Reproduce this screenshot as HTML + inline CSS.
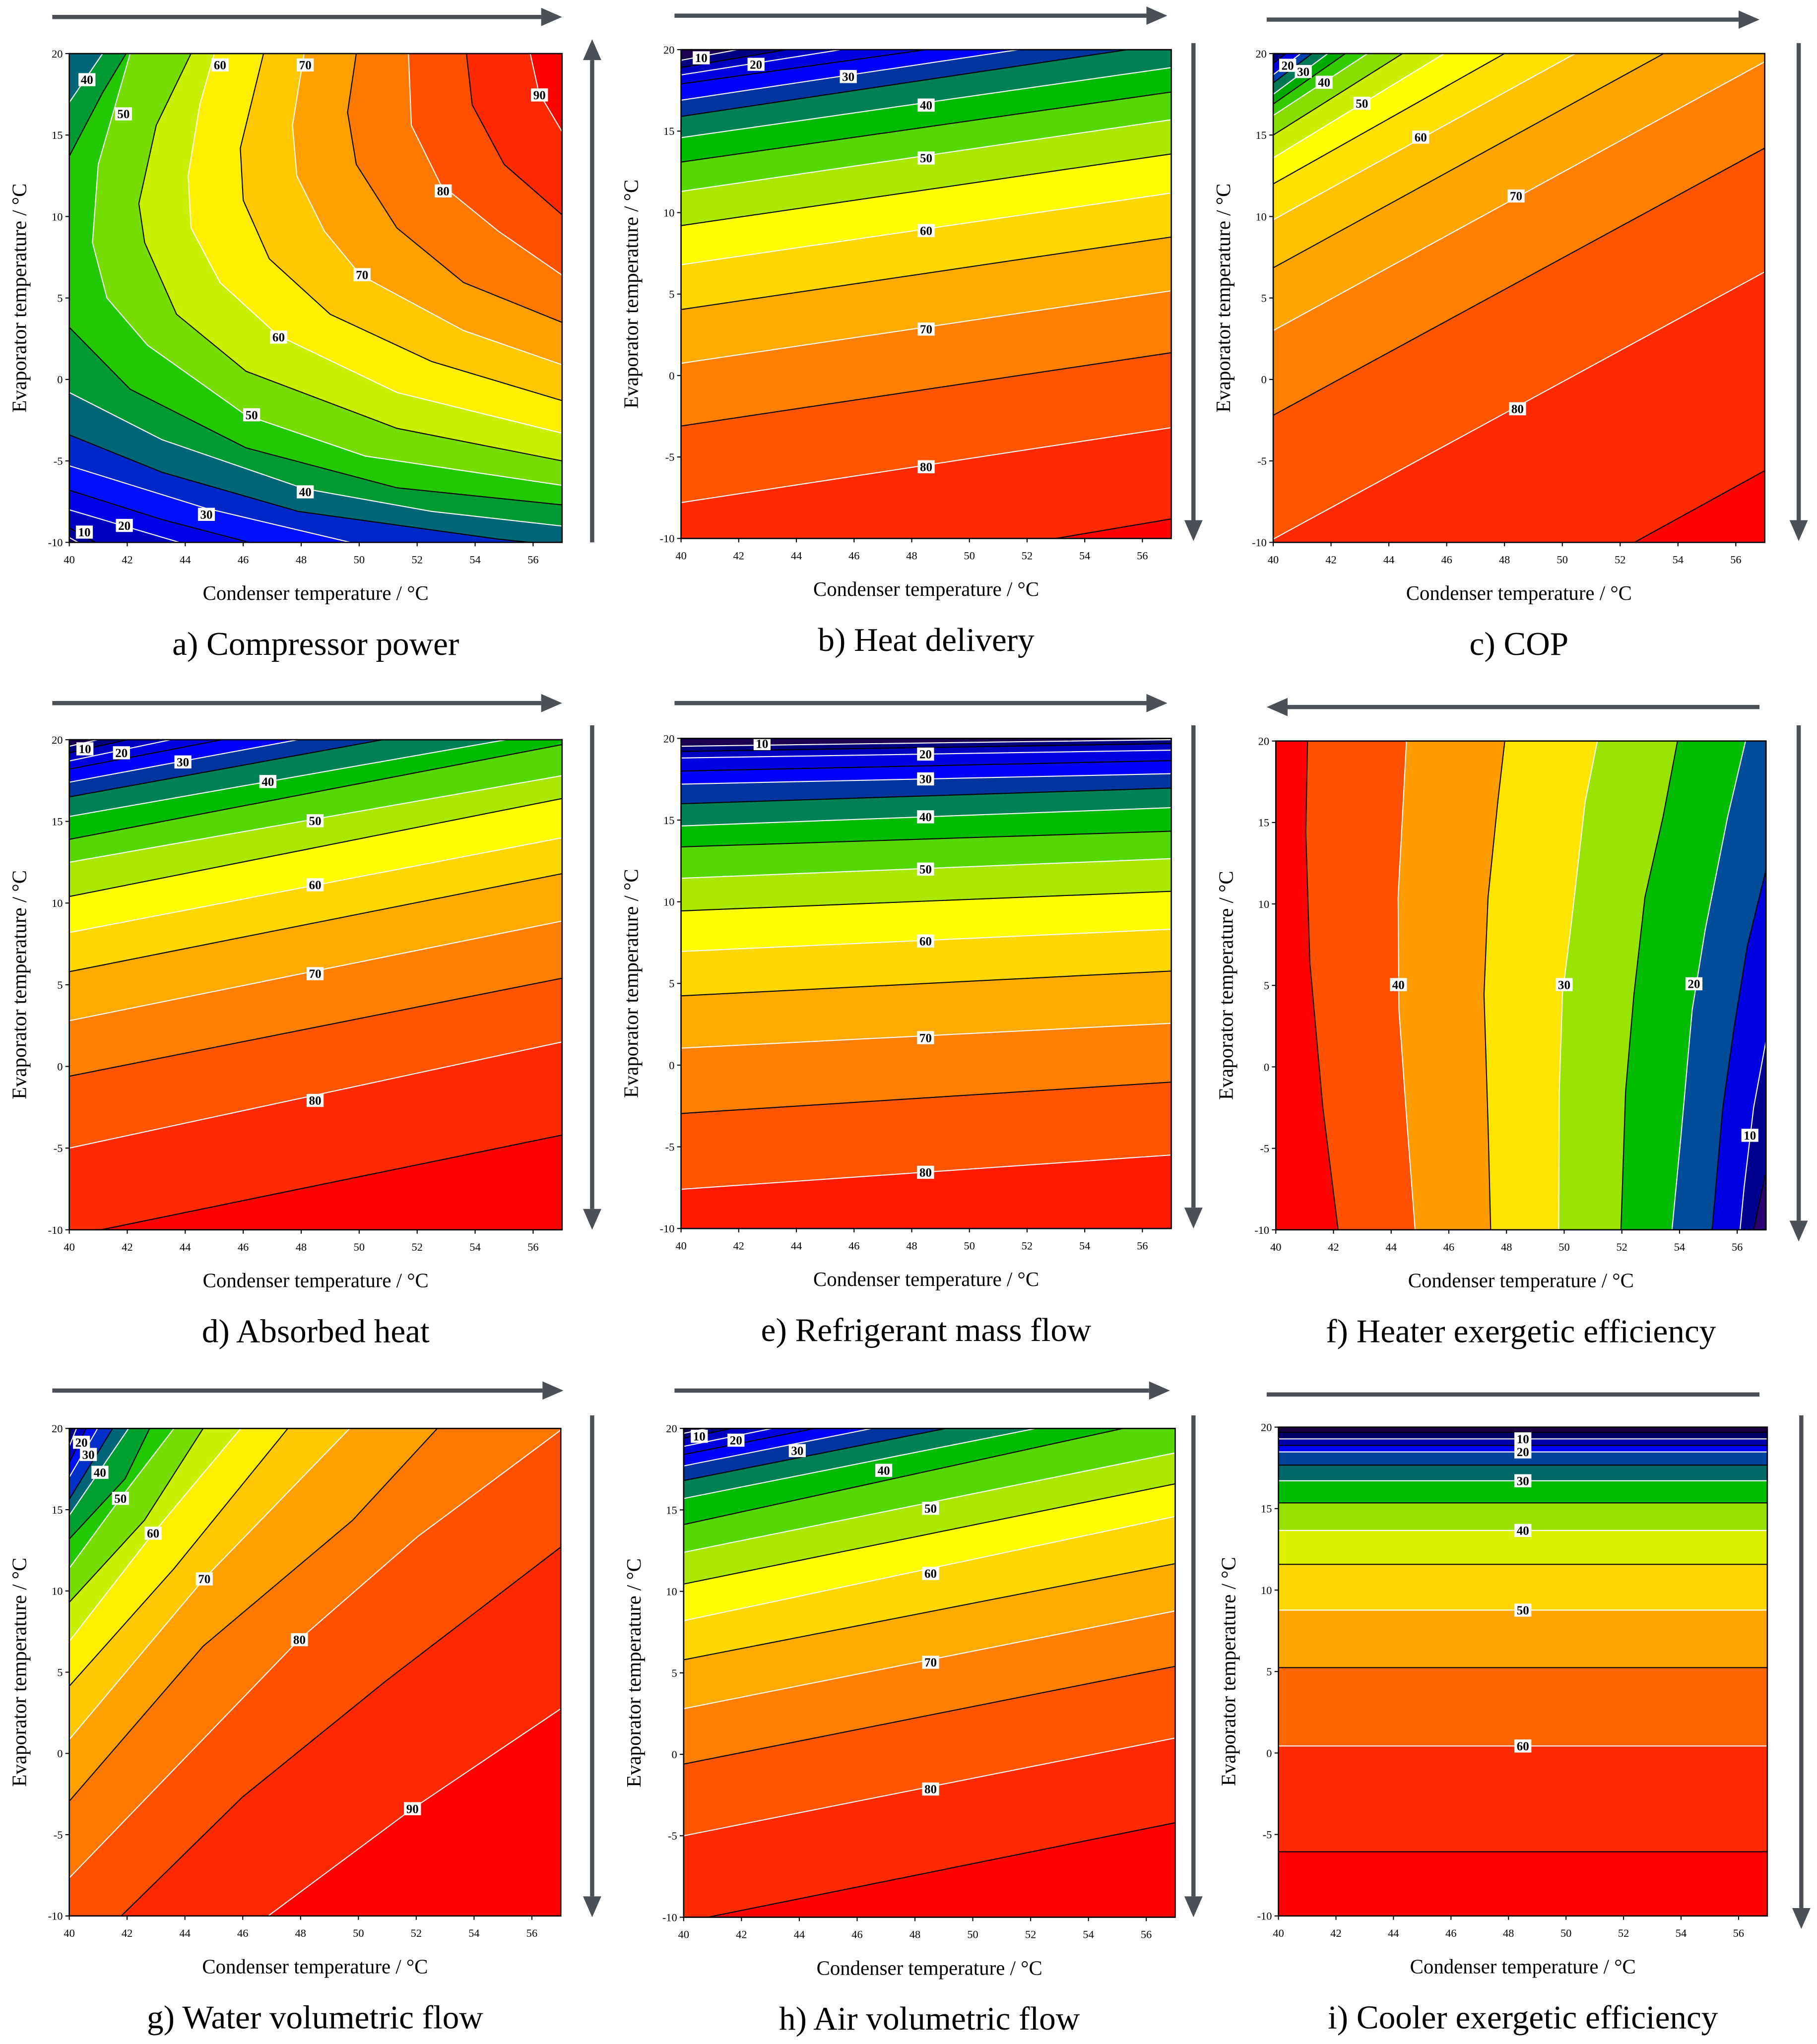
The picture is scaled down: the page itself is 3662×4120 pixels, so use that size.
<!DOCTYPE html>
<html><head><meta charset="utf-8"><style>
html,body{margin:0;padding:0;background:#fff;}
svg{display:block;}
svg text{font-family:"Liberation Serif","DejaVu Serif",serif;}
</style></head><body>
<svg id="fig" width="3662" height="4120" viewBox="0 0 1390 1564" preserveAspectRatio="none" xmlns="http://www.w3.org/2000/svg"></svg>
<script>
// ===== Panel a: Compressor power =====
const aLevels=[10,15,20,25,30,35,40,45,50,55,60,65,70,75,80,85,90];
const aColors=['#22007a','#000099','#0000c0','#0000e6','#0010ff','#0028c8','#006677','#009a35','#22c800','#77dd00','#c8f000','#fff000','#ffc800','#ffa000','#ff7800','#ff5000','#ff2800','#ff0000'];
const aLines=[
[[40,-9.7],[40.3,-10]],
[[40,-9.1],[40.9,-10]],
[[40,-8.0],[41.9,-9.0],[43.8,-10]],
[[40,-6.8],[43.2,-8.6],[46.2,-10]],
[[40,-5.3],[44.7,-7.9],[49.7,-10]],
[[40,-3.4],[43.2,-5.7],[47.9,-8.1],[54.8,-9.8],[57,-10.2]],
[[40,-0.8],[43.2,-3.7],[48.1,-6.7],[52.5,-8.1],[57,-9.0]],
[[40,3.2],[42.1,-0.6],[46.1,-4.2],[51.3,-6.65],[57,-7.7]],
[[42.1,20],[41.0,13.2],[40.8,8.4],[41.3,5.0],[42.7,2.1],[46.1,-2.2],[50.2,-4.7],[57,-6.5]],
[[44.2,20],[43.0,15.6],[42.4,10.8],[42.6,8.4],[43.7,4.0],[46.1,0.5],[51.3,-3.0],[57,-5.0]],
[[45.0,20],[44.5,16.85],[44.1,12.5],[44.2,9.3],[45.2,5.95],[47.2,2.7],[51.3,-0.8],[57,-3.3]],
[[46.7,20],[45.9,14.2],[46.0,11.0],[46.9,7.4],[49.0,4.0],[52.5,1.1],[57,-1.3]],
[[48.1,20],[47.7,15.6],[47.85,12.5],[48.8,9.1],[50.05,6.4],[53.6,3.0],[57,0.9]],
[[49.9,20],[49.6,16.4],[49.9,13.2],[51.3,9.3],[53.6,5.95],[57,3.5]],
[[51.7,20],[51.8,15.6],[52.8,12.0],[54.8,9.1],[57,6.4]],
[[53.7,20],[53.9,16.85],[55.0,13.2],[57,10.1]],
[[55.9,20],[56.2,17.6],[57,15.2]]
];
const aCornerLevels=[45,40];
const aCornerColors=['#009a35','#006677'];
const aCornerLines=[[[41.96,20],[41.15,17.6],[40,13.7]],[[41.15,20],[40,17]]];
const aLabels=[[10,40.52,-9.37],[20,41.9,-8.96],[30,44.73,-8.28],[40,48.14,-6.9],[50,46.29,-2.17],[60,47.22,2.6],[70,50.1,6.43],[80,52.9,11.57],[90,56.22,17.46],[40,40.61,18.4],[50,41.87,16.3],[60,45.2,19.3],[70,48.14,19.3]];

// ===== Panel b: Heat delivery =====
const bLevels=[10,15,20,25,30,35,40,45,50,55,60,65,70,75,80,85];
const bColors=['#1a0050','#000080','#0000c0','#0000e0','#0000ff','#0035a0','#008055','#00bb00','#55d800','#aae800','#ffff00','#ffd700','#ffaa00','#ff8000','#ff5500','#ff2a00','#ff0000'];
const bLines=[[[40,19.35],[57,25]],[[40,18.9],[57,24]],[[40,18.45],[57,23.2]],[[40,17.9],[57,22.1]],[[40,16.9],[57,21.4]],[[40,15.9],[57,20.4]],[[40,14.6],[57,18.9]],[[40,13.1],[57,17.4]],[[40,11.3],[57,15.7]],[[40,9.2],[57,13.6]],[[40,6.8],[57,11.2]],[[40,4.05],[57,8.5]],[[40,0.75],[57,5.2]],[[40,-3.1],[57,1.4]],[[40,-7.8],[57,-3.2]],[[53,-10],[57,-8.8]]];
const bLabels=[[10,40.7,19.5],[20,42.6,19.1],[30,45.8,18.35],[40,48.5,16.6],[50,48.5,13.35],[60,48.5,8.9],[70,48.5,2.85],[80,48.5,-5.6]];

// ===== Panel c: COP =====
const cLevels=[15,20,25,30,35,40,45,50,55,60,65,70,75,80,85];
const cColors=['#000080','#0000e0','#0040b0','#007755','#00aa00','#33cc00','#88dd00','#ccee00','#ffff00','#ffe000','#ffc000','#ffa500','#ff8000','#ff5500','#ff2a00','#ff0000'];
const cLines=[[[40,19.4],[57,43]],[[40,18.7],[57,42]],[[40,18.2],[57,41]],[[40,17.5],[57,40]],[[40,16.9],[57,38]],[[40,16.2],[57,36]],[[40,15.0],[57,34]],[[40,13.6],[57,32]],[[40,12.0],[57,29]],[[40,9.8],[57,26.4]],[[40,6.85],[57,23.4]],[[40,3.0],[57,19.5]],[[40,-2.2],[57,14.2]],[[40,-9.8],[57,6.6]],[[40,-22.2],[57,-5.6]]];
const cLabels=[[20,40.5,19.28],[30,41.04,18.9],[40,41.76,18.24],[50,43.07,16.95],[60,45.1,14.87],[70,48.4,11.26],[80,48.45,-1.8]];

// ===== Panel d: Absorbed heat =====
const dLevels=[10,15,20,25,30,35,40,45,50,55,60,65,70,75,80,85];
const dColors=['#1a0050','#000080','#0000c0','#0000e0','#0000ff','#0035a0','#008055','#00bb00','#55d800','#aae800','#ffff00','#ffd700','#ffaa00','#ff8000','#ff5500','#ff2a00','#ff0000'];
const dLines=[[[40,19.6],[57,26.5]],[[40,19.2],[57,26]],[[40,18.7],[57,25]],[[40,18.2],[57,24]],[[40,17.4],[57,23]],[[40,16.5],[57,22]],[[40,15.3],[57,20.6]],[[40,13.9],[57,19.7]],[[40,12.5],[57,17.8]],[[40,10.4],[57,16.4]],[[40,8.2],[57,14.0]],[[40,5.8],[57,11.8]],[[40,2.8],[57,8.9]],[[40,-0.6],[57,5.4]],[[40,-5.0],[57,1.5]],[[40,-10.4],[57,-4.2]]];
const dLabels=[[10,40.54,19.44],[20,41.8,19.2],[30,43.92,18.64],[40,46.85,17.44],[50,48.48,15.04],[60,48.48,11.12],[70,48.48,5.68],[80,48.48,-2.08]];

// ===== Panel e: Refrigerant mass flow =====
const eLevels=[10,15,20,25,30,35,40,45,50,55,60,65,70,75,80];
const eColors=['#1a0050','#000080','#0000c0','#0000e0','#0000ff','#0035a0','#008055','#00bb00','#55d800','#aae800','#ffff00','#ffd700','#ffaa00','#ff8000','#ff5500','#ff1a00'];
const eLines=[[[40,19.52],[57,19.92]],[[40,19.2],[57,19.68]],[[40,18.8],[57,19.28]],[[40,18.0],[57,18.64]],[[40,17.2],[57,17.84]],[[40,16.0],[57,16.96]],[[40,14.64],[57,15.76]],[[40,13.36],[57,14.32]],[[40,11.44],[57,12.64]],[[40,9.44],[57,10.64]],[[40,6.96],[57,8.32]],[[40,4.24],[57,5.76]],[[40,1.04],[57,2.56]],[[40,-2.96],[57,-1.04]],[[40,-7.6],[57,-5.5]]];
const eLabels=[[10,42.81,19.68],[20,48.48,19.04],[30,48.48,17.52],[40,48.48,15.2],[50,48.48,12],[60,48.48,7.6],[70,48.48,1.68],[80,48.48,-6.56]];

// ===== Panel f: Heater exergetic efficiency =====
const fLevels=[5,10,15,20,25,30,35,40,45];
const fColors=['#2a0070','#000090','#0000e0','#004c99','#00bb00','#99e400','#ffe400','#ff9c00','#ff5000','#ff0000'];
const fLines=[
[[57,-6.4],[56.57,-10]],
[[57,1.6],[56.57,-2.5],[56.24,-7.4],[56.1,-10]],
[[57,12.1],[56.35,7.4],[55.9,2.5],[55.5,-2.5],[55.13,-10]],
[[56.29,20],[55.67,15.35],[54.89,8.4],[54.44,3.5],[54.04,-4.45],[53.74,-10]],
[[53.93,20],[53.43,15.35],[52.8,10.4],[52.42,4.45],[52.13,-1.5],[51.97,-10]],
[[51.15,20],[50.73,16.3],[50.22,8.4],[49.94,4.45],[49.83,-1.5],[49.81,-10]],
[[47.94,20],[47.7,16.3],[47.36,10.4],[47.22,4.45],[47.36,-3.5],[47.45,-10]],
[[44.53,20],[44.24,10.4],[44.27,3.5],[44.55,-3.5],[44.83,-10]],
[[41.1,20],[41.04,14.4],[41.18,6.4],[41.63,-2.5],[42.16,-10]]
];
const fLabels=[[40,44.25,5.05],[30,50.0,5.05],[20,54.5,5.1],[10,56.44,-4.2]];

// ===== Panel g: Water volumetric flow =====
const gLevels=[20,25,30,35,40,45,50,55,60,65,70,75,80,85,90];
const gColors=['#000080','#0000c0','#0010ff','#0030c8','#006677','#00a030','#22c800','#77dd00','#c8f000','#fff000','#ffc800','#ffa000','#ff7800','#ff5000','#ff2800','#ff0000'];
const gLines=[
[[40,18.9],[40.25,20]],
[[40,17.9],[40.58,20]],
[[40,17.0],[40.98,20]],
[[40,15.64],[41.5,20]],
[[40,14.65],[42.05,20]],
[[40,13.2],[41.93,16.9],[42.78,20]],
[[40,11.4],[41.77,15.7],[43.62,20]],
[[40,9.3],[42.6,14.35],[44.63,20]],
[[40,6.9],[42.9,13.55],[45.93,20]],
[[40,4.14],[43.62,11.37],[47.56,20]],
[[40,0.86],[44.69,10.8],[49.7,20]],
[[40,-2.94],[44.63,6.6],[49.8,14.35],[52.73,20]],
[[40,-7.66],[47.95,7.0],[52.06,13.36],[57,19.9]],
[[41.8,-10],[45.98,-2.7],[50.93,4.43],[57,12.7]],
[[46.88,-10],[51.87,-3.4],[57,2.75]]
];
const gLabels=[[20,40.42,19.15],[30,40.66,18.4],[40,41.06,17.3],[50,41.77,15.7],[60,42.9,13.55],[70,44.67,10.74],[80,47.96,7.0],[90,51.87,-3.4]];

// ===== Panel h: Air volumetric flow =====
const hLevels=[10,15,20,25,30,35,40,45,50,55,60,65,70,75,80,85];
const hColors=['#1a0050','#000080','#0000c0','#0000e0','#0000ff','#0035a0','#008055','#00bb00','#55d800','#aae800','#ffff00','#ffd700','#ffaa00','#ff8000','#ff5500','#ff2a00','#ff0000'];
const hLines=[[[40,19.7],[57,26]],[[40,19.4],[57,25.5]],[[40,18.9],[57,25]],[[40,18.4],[57,24.4]],[[40,17.7],[57,23.7]],[[40,16.8],[57,22.8]],[[40,15.7],[57,21.7]],[[40,14.1],[57,20.7]],[[40,12.4],[57,18.5]],[[40,10.45],[57,16.6]],[[40,8.2],[57,14.6]],[[40,5.8],[57,11.7]],[[40,2.8],[57,8.8]],[[40,-0.6],[57,5.4]],[[40,-5.0],[57,1.0]],[[40,-10.3],[57,-4.2]]];
const hLabels=[[10,40.54,19.52],[20,41.81,19.28],[30,43.93,18.64],[40,46.92,17.43],[50,48.54,15.1],[60,48.54,11.1],[70,48.54,5.65],[80,48.54,-2.13]];

// ===== Panel i: Cooler exergetic efficiency =====
const iLevels=[5,10,15,20,25,30,35,40,45,50,55,60,65];
const iColors=['#1a0040','#000066','#0000aa','#0000ff','#004499','#006666','#00bb00','#99e000','#ddf000','#ffd700','#ffa500','#ff6600','#ff2a00','#ff0000'];
const iLines=[[[40,19.68],[57,19.68]],[[40,19.28],[57,19.28]],[[40,18.88],[57,18.88]],[[40,18.48],[57,18.48]],[[40,17.67],[57,17.67]],[[40,16.71],[57,16.71]],[[40,15.35],[57,15.35]],[[40,13.66],[57,13.66]],[[40,11.58],[57,11.58]],[[40,8.77],[57,8.77]],[[40,5.24],[57,5.24]],[[40,0.43],[57,0.43]],[[40,-6.06],[57,-6.06]]];
const iLabels=[[10,48.5,19.28],[20,48.5,18.48],[30,48.5,16.71],[40,48.5,13.66],[50,48.5,8.77],[60,48.5,0.43]];

const xTicks=[40,42,44,46,48,50,52,54,56];
const yTicks=[-10,-5,0,5,10,15,20];

const NS='http://www.w3.org/2000/svg';
const svg=document.getElementById('fig');
function mk(tag,attrs,parent){const e=document.createElementNS(NS,tag);for(const k in attrs)e.setAttribute(k,attrs[k]);(parent||svg).appendChild(e);return e;}

const HIGH_BELOW=[[60,-14],[36,-14]];
const panels=[
 {id:'a',name:'compressor-power',cap:'a) Compressor power',box:[53,41,430,415],lv:aLevels,co:aColors,ln:aLines,lb:aLabels,cl:[[60,-14],[60,25],[36,25]]},
 {id:'b',name:'heat-delivery',cap:'b) Heat delivery',box:[521,38,896,412],lv:bLevels,co:bColors,ln:bLines,lb:bLabels,cl:HIGH_BELOW},
 {id:'c',name:'cop',cap:'c) COP',box:[974,41,1350,415],lv:cLevels,co:cColors,ln:cLines,lb:cLabels,cl:HIGH_BELOW},
 {id:'d',name:'absorbed-heat',cap:'d) Absorbed heat',box:[53,566,430,941],lv:dLevels,co:dColors,ln:dLines,lb:dLabels,cl:HIGH_BELOW},
 {id:'e',name:'refrigerant-mass-flow',cap:'e) Refrigerant mass flow',box:[521,565,896,940],lv:eLevels,co:eColors,ln:eLines,lb:eLabels,cl:HIGH_BELOW},
 {id:'f',name:'heater-exergetic-efficiency',cap:'f) Heater exergetic efficiency',box:[976,567,1351,941],lv:fLevels,co:fColors,ln:fLines,lb:fLabels,cl:[[36,-14],[36,25],[60,25]]},
 {id:'g',name:'water-volumetric-flow',cap:'g) Water volumetric flow',box:[53,1093,429,1466],lv:gLevels,co:gColors,ln:gLines,lb:gLabels,cl:[[60,25],[60,-14],[36,-14]]},
 {id:'h',name:'air-volumetric-flow',cap:'h) Air volumetric flow',box:[523,1093,899,1467],lv:hLevels,co:hColors,ln:hLines,lb:hLabels,cl:HIGH_BELOW},
 {id:'i',name:'cooler-exergetic-efficiency',cap:'i) Cooler exergetic efficiency',box:[978,1092,1352,1466],lv:iLevels,co:iColors,ln:iLines,lb:iLabels,cl:HIGH_BELOW}
];

function extend(pts){
 if(pts.length<2)return pts;
 const out=pts.slice();
 const e=(p,q)=>{const dx=p[0]-q[0],dy=p[1]-q[1];const L=Math.hypot(dx,dy)||1;return [p[0]+dx/L*60,p[1]+dy/L*60];};
 out.unshift(e(pts[0],pts[1]));
 out.push(e(pts[pts.length-1],pts[pts.length-2]));
 return out;
}

panels.forEach(P=>{
 const [x0,y0,x1,y1]=P.box;
 const sx=X=>x0+(X-40)/17*(x1-x0);
 const sy=Y=>y1-(Y+10)/30*(y1-y0);
 const g=mk('g',{});
 
 
 const defs=mk('defs',{},g);
 const cp=mk('clipPath',{id:'clip-'+P.id},defs);
 mk('rect',{x:x0,y:y0,width:x1-x0,height:y1-y0},cp);
 const plot=mk('g',{'clip-path':'url(#clip-'+P.id+')'},g);
 
 
 const bg=mk('rect',{x:x0,y:y0,width:x1-x0,height:y1-y0,fill:P.co[0]},plot);
 
 
 const paths=[];
 P.lv.forEach((lev,i)=>{
  const pts=extend(P.ln[i].map(p=>[sx(p[0]),sy(p[1])]));
  const cl=P.cl.map(p=>[sx(p[0]),sy(p[1])]);
  const all=pts.concat(cl);
  const poly=mk('polygon',{points:all.map(p=>p[0].toFixed(2)+','+p[1].toFixed(2)).join(' '),fill:P.co[i+1]},plot);
  
  
  paths.push([lev,pts]);
 });
 if(P.id==='a'){
  aCornerLevels.forEach((lev,i)=>{
   const pts=extend(aCornerLines[i].map(p=>[sx(p[0]),sy(p[1])]));
   const cl=[[36,10],[36,25]].map(p=>[sx(p[0]),sy(p[1])]);
   const poly=mk('polygon',{points:pts.concat(cl).map(p=>p.join(',')).join(' '),fill:aCornerColors[i]},plot);
   
   
   paths.push([lev,pts]);
  });
 }
 paths.forEach(([lev,pts])=>{
  const pl=mk('polyline',{points:pts.map(p=>p.join(',')).join(' '),fill:'none',stroke:(lev%10===0)?'#ffffff':'#000000','stroke-width':0.8},plot);
  
  
 });
 P.lb.forEach(([v,X,Y])=>{
  const cx=sx(X),cy=sy(Y);
  const lg=mk('g',{},plot);
  
  
  mk('rect',{x:cx-6.5,y:cy-5,width:13,height:10,fill:'#fff'},lg);
  const t=mk('text',{x:cx,y:cy+3.3,'text-anchor':'middle','font-size':9.5,'font-weight':'bold',fill:'#000'},lg);
  t.textContent=v;
 });
 const fr=mk('rect',{x:x0,y:y0,width:x1-x0,height:y1-y0,fill:'none',stroke:'#000','stroke-width':1},g);
 
 
 xTicks.forEach(v=>{
  const x=sx(v);
  mk('line',{x1:x,y1:y1,x2:x,y2:y1+3,stroke:'#000','stroke-width':0.8},g);
  const t=mk('text',{x:x,y:y1+16,'text-anchor':'middle','font-size':8.5,fill:'#000'},g);
  
  
  t.textContent=v;
 });
 yTicks.forEach(v=>{
  const y=sy(v);
  mk('line',{x1:x0-3,y1:y,x2:x0,y2:y,stroke:'#000','stroke-width':0.8},g);
  const t=mk('text',{x:x0-5,y:y+3,'text-anchor':'end','font-size':8.5,fill:'#000'},g);
  
  
  t.textContent=v;
 });
 const xt=mk('text',{x:(x0+x1)/2,y:y1+44,'text-anchor':'middle','font-size':15.5,fill:'#000'},g);
 
 
 xt.textContent='Condenser temperature / °C';
 const yc=(y0+y1)/2, yx=x0-33;
 const yt=mk('text',{x:yx,y:yc,'text-anchor':'middle','font-size':15.5,fill:'#000',transform:'rotate(-90 '+yx+' '+yc+')'},g);
 
 
 yt.textContent='Evaporator temperature / °C';
 const cap=mk('text',{x:(x0+x1)/2,y:y1+86,'text-anchor':'middle','font-size':25.5,fill:'#000'},g);
 
 
 cap.textContent=P.cap;
});

// trend arrows
const arrows=[
 [40,13,430,13,1],[516,12,893,12,1],[969,15,1346,15,1],
 [453,415,453,30,1],[913,33,913,414,1],[1376,33,1376,414,1],
 [40,538,430,538,1],[516,538,893,538,1],[1346,541,969,541,1],
 [453,555,453,941,1],[913,555,913,940,1],[1376,555,1376,950,1],
 [40,1064,431,1064,1],[516,1064,895,1064,1],[969,1067,1346,1067,0],
 [453,1083,453,1467,1],[913,1083,913,1467,1],[1378,1083,1378,1476,1]
];
arrows.forEach(([ax,ay,bx,by,head])=>{
 const g=mk('g',{});
 
 
 const dx=bx-ax,dy=by-ay,L=Math.hypot(dx,dy),ux=dx/L,uy=dy/L;
 const hl=head?16:0;
 mk('line',{x1:ax,y1:ay,x2:bx-ux*hl,y2:by-uy*hl,stroke:'#4b5056','stroke-width':3.2},g);
 if(head){
  const px=-uy,py=ux,w=7;
  const bxp=bx-ux*hl,byp=by-uy*hl;
  mk('polygon',{points:`${bx},${by} ${bxp+px*w},${byp+py*w} ${bxp-px*w},${byp-py*w}`,fill:'#4b5056'},g);
 }
});
</script>
</body></html>
